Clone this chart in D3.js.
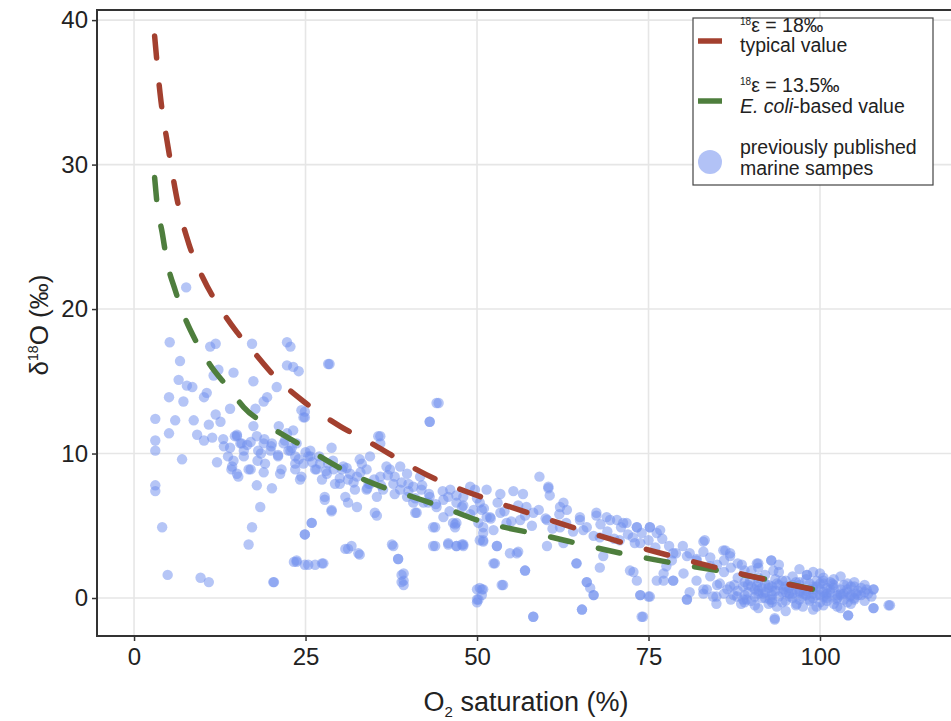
<!DOCTYPE html>
<html><head><meta charset="utf-8">
<script src="https://cdn.jsdelivr.net/npm/d3@7"></script>
<style>body{margin:0;background:#fff}svg{display:block;font-family:"Liberation Sans",Arial,Helvetica,sans-serif}</style>
</head><body><svg id="c" width="951" height="721"></svg>
<script>
const xTicks=[0,25,50,75,100];
const yTicks=[0,10,20,30,40];
const redX=[3,3.8,5,6.4,8,10,12.5,15,17.5,20,25,30,35,40,45,50,60,70,80,90,100];
const redY=[38.9,34.9,31.1,27.3,24.5,22.2,20.1,18.4,17.0,15.6,13.5,11.9,10.6,9.2,8.0,7.1,5.5,4.0,2.7,1.5,0.5];
const greenX=[3,3.4,4.1,4.8,6,7,9,11,14,16,20,25,30,35,40,45,50,60,70,80,90,100];
const greenY=[29.1,27.1,25.3,23.3,21.3,19.9,17.8,16.2,14.4,13.2,11.8,10.4,9.0,7.9,7.1,6.3,5.4,4.3,3.2,2.3,1.5,0.5];
const sampleX=[7.6,5.2,11.9,11.1,17.2,22.3,22.8,6.7,12.3,11.6,14.5,17.4,22.3,6.5,7.7,8.5,5.1,7.2,10.2,10.6,20.8,19.4,18.9,14.0,17.7,3.1,6.0,8.7,11.9,12.6,10.9,5.1,9.2,10.2,11.4,3.1,3.1,13.1,15.0,15.5,16.0,17.4,17.9,18.9,19.9,21.1,22.3,21.8,22.8,7.0,12.1,14.3,15.0,17.0,18.9,21.3,17.9,20.1,3.1,3.1,18.4,4.1,17.2,16.7,23.3,4.9,9.7,10.9,20.4,
28.5,24.0,23.2,24.7,24.9,44.4,43.1,35.9,28.8,23.2,23.7,25.7,23.5,24.2,27.8,28.8,30.8,32.5,35.4,25.9,24.9,30.8,31.7,32.9,23.7,24.9,26.4,27.6,37.8,38.5,39.3,39.3,39.3,43.6,43.6,45.8,47.0,48.0,46.8,50.0,50.7,50.0,50.4,41.2,
25.7,27.1,29.1,30.5,31.5,32.5,33.9,34.4,34.4,35.9,36.3,37.3,37.8,38.8,39.8,40.7,41.7,42.2,43.1,44.1,45.1,46.1,47.0,48.0,49.0,49.5,50.4,51.4,39.8,36.8,35.4,33.9,30.0,28.1,26.6,24.7,23.5,32.9,38.8,40.7,45.1,47.0,50.2,50.9,
59.1,60.4,60.6,51.4,53.4,55.3,56.7,57.2,62.6,63.1,56.3,58.2,60.2,62.1,53.4,51.9,50.9,52.4,54.3,65.0,67.4,68.9,70.4,71.8,73.3,75.2,76.7,65.5,67.9,70.8,72.7,73.8,62.6,60.2,52.9,50.9,54.8,56.0,52.6,57.0,53.6,50.9,64.5,68.4,67.9,66.0,66.5,67.0,58.2,65.3,72.8,73.3,73.8,75.2,74.2,76.2,77.2,77.6,78.6,78.4,
83.2,86.2,86.9,78.6,80.6,82.0,84.0,80.1,78.6,88.6,91.0,92.9,93.2,98.1,100.5,80.6,83.0,84.4,84.9,86.9,87.9,89.3,90.8,91.7,92.7,93.7,93.4,94.7,95.6,96.6,97.6,98.5,99.5,100.5,101.5,102.4,103.4,104.4,105.3,106.8,107.8,104.1,107.8,110.0,101.8,99.5,89.8,88.8,85.4,93.7,
60.4,62.1,67.4,69.4,71.3,73.3,75.2,76.2,83.0,85.9,86.9,90.8,92.9,98.1,100.5,107.8,110.2,107.8,104.1,93.4,80.6,83.5,84.9,87.4,88.8,52.9,52.4,53.8,50.4,50.0,58.2,65.3,74.0,57.0,64.5,66.0,67.0,73.8,75.0,72.3,77.2,47.0,48.0,46.5,50.9,55.8,
14.7,15.7,13.7,14.2,15.2,16.7,18.1,19.1,20.1,21.0,21.5,22.5,23.5,24.4,25.4,26.4,27.4,28.3,29.3,30.3,31.2,32.2,33.2,34.2,35.6,35.9,27.8,28.8,31.2,35.1,28.3,24.4,24.9,44.1,43.1,38.0,40.0,41.9,42.9,45.8,47.8,49.7,50.7,41.0,43.9,46.8,43.9,45.8,47.8,37.6,38.5,39.0,39.0,50.7,50.2,31.2,32.7,23.7,25.4,27.4,24.9,25.9,20.3,
88,89,89.5,90,90.5,91,91.5,92,92.5,93,93.5,94,94.5,95,95.5,96,96.5,97,97.5,98,98.5,99,99.5,100,100,100.5,101,101.5,102,102,102.5,103,103.5,104,104.5,105,105.5,106,106.5,98,96,94,92,90,88,86,86.5,87,85,84,83,82,81,91,95,99,103,97,99,101,93,89,92,96,100,104,102,105,100,97,94,91,
20,21,22,23,24,25,26,27,28,29,30,31,32,33,34,35,36,37,38,39,40,41,42,43,44,45,46,47,48,49,50,51,52,53,54,55,56,57,58,59,60,61,62,63,64,65,66,67,68,69,70,71,72,73,74,75,76,77,78,79,80,81,82,83,84,85,86,87,88,89,
86,87.5,88.5,89.5,90.5,91.5,92.5,93.5,94.5,95.5,96.5,97.5,98.5,99.5,100.5,101.5,102.5,103.5,104.5,105.5,106.5,107.5,103,99,95,91,97,93,101,104,
13,14,15,16,17,18,19,14.5,16.5,18.5,
90,91,92,93,94,95,96,97,98,99,100,101,102,103,104,105,106,107,90.5,92.5,94.5,96.5,98.5,100.5,102.5,104.5,106.5,89,91,93,95,97,99,101,103,105];
const sampleY=[21.5,17.7,17.6,17.4,17.6,17.7,17.4,16.4,15.8,15.4,15.6,15.0,16.1,15.1,14.7,14.6,13.9,13.6,13.9,14.2,14.6,13.9,13.6,13.1,13.1,12.4,12.3,12.3,12.7,12.2,12.0,11.4,11.3,10.9,11.1,10.9,10.2,10.5,11.2,10.7,10.2,11.9,11.2,10.7,10.2,11.9,11.4,10.7,10.2,9.6,9.4,9.1,8.6,8.9,8.7,8.6,7.8,7.6,7.8,7.4,6.3,4.9,4.9,3.7,2.5,1.6,1.4,1.1,1.1,
16.2,15.7,16.0,12.5,12.9,13.5,12.2,11.2,10.4,11.6,10.7,10.2,8.9,8.2,6.8,6.0,7.0,6.3,5.7,5.2,4.4,3.4,3.6,3.0,2.6,2.3,2.3,2.4,3.6,2.7,1.7,1.2,0.9,4.9,3.6,3.7,3.6,3.7,5.1,0.6,0.2,-0.3,4.0,5.9,
9.8,9.3,8.9,9.1,8.6,8.4,8.9,9.8,7.9,8.4,7.5,8.9,7.9,7.5,7.0,7.7,8.4,6.6,7.0,6.3,6.8,7.5,6.6,7.0,7.7,6.1,6.6,5.6,8.6,9.1,7.0,7.5,7.9,8.6,8.9,9.3,9.8,9.6,9.1,6.6,5.6,5.2,5.2,4.5,
8.4,7.7,7.1,7.5,7.2,7.4,7.2,6.3,6.6,6.1,5.4,5.9,5.4,4.9,5.9,5.6,4.9,4.7,5.2,5.6,5.9,5.6,5.4,5.2,4.9,4.9,4.7,4.7,4.2,4.0,4.2,3.8,3.8,3.6,3.6,3.9,3.1,3.2,2.4,1.9,0.9,0.6,2.4,2.9,2.1,1.1,0.7,0.2,-1.3,-0.8,1.8,1.2,0.2,0.1,-1.3,1.2,1.7,2.2,1.2,2.6,
4.0,3.3,2.9,3.1,2.9,2.6,2.2,1.7,1.2,2.3,2.4,2.6,1.9,1.6,1.4,-0.1,0.3,0.1,-0.4,0.8,0.1,-0.1,0.8,0.3,-0.1,-0.6,-1.5,0.6,0.1,-0.4,0.3,-0.1,-0.6,0.1,0.6,-0.1,0.3,0.1,0.3,0.6,0.6,-1.2,-0.7,-0.5,1.0,0.8,1.2,0.8,1.0,1.0,
7.6,6.3,5.7,5.4,5.2,4.9,4.9,4.5,3.9,3.3,3.1,2.4,2.6,1.6,1.2,0.6,-0.5,-0.7,-1.2,-1.4,-0.1,0.6,0.1,0.2,-0.1,3.6,2.4,0.9,0.7,-0.1,-1.3,-0.8,-1.3,1.9,2.4,1.1,0.2,0.2,0.1,1.9,1.2,3.6,3.6,5.2,4.0,3.1,
11.2,10.7,9.8,8.9,8.4,8.9,10.2,9.3,10.7,9.8,8.9,10.2,9.3,8.4,9.8,8.9,8.2,9.3,7.9,8.9,8.2,7.5,9.3,7.9,11.2,10.7,7.0,6.1,6.6,5.9,16.2,13.0,12.5,13.5,12.2,8.4,7.9,7.5,6.6,7.0,6.3,7.5,6.1,5.9,4.9,4.9,3.6,3.8,3.7,3.7,2.7,1.6,1.1,0.6,-0.1,3.4,3.1,2.5,2.3,2.4,4.4,5.2,1.1,
0.5,0.2,0.9,-0.2,0.6,1.1,0.0,0.4,0.9,-0.3,0.5,0.1,1.2,-0.2,0.7,0.3,-0.5,0.9,0.1,0.5,-0.2,0.8,0.2,-0.3,0.6,1.0,0.0,0.4,-0.4,0.9,0.2,0.6,-0.1,0.4,0.8,0.0,0.5,0.2,0.9,1.3,1.5,1.8,1.6,1.9,1.4,1.8,0.6,-0.1,0.9,1.5,0.6,1.2,0.4,-0.7,-0.9,-0.8,-0.7,-0.1,0.3,0.7,0.8,-0.3,0.0,0.9,0.2,-0.3,1.3,1.1,1.7,2.0,2.3,2.1,
10.5,9.9,10.9,10.4,9.6,10.1,9.4,9.8,8.8,9.5,8.3,9.0,8.0,8.7,7.6,8.2,7.8,8.5,7.2,8.0,7.4,6.9,7.8,7.2,6.5,7.4,6.0,7.1,6.4,5.8,6.9,6.2,5.5,6.6,6.0,5.3,6.4,5.7,5.0,6.1,5.5,4.8,5.8,5.2,4.6,5.4,4.9,4.3,5.1,4.6,4.1,4.9,4.4,3.8,4.5,4.0,3.5,4.1,3.6,3.1,3.6,3.1,2.7,3.2,2.8,2.3,2.6,2.1,2.4,1.9,
0.3,0.9,-0.4,0.4,-0.5,0.7,-0.4,1.3,-0.3,0.3,1.1,-0.6,0.6,1.2,-0.5,1.1,-0.6,0.9,-0.4,0.2,0.4,0.1,1.5,1.8,1.2,1.4,0.5,0.2,0.3,0.6,
11.0,10.4,11.3,9.8,10.8,9.5,11.0,9.5,10.6,10.0,
0.8,0.3,1.0,0.5,0.9,0.4,0.0,1.1,0.2,0.6,1.0,0.1,0.7,0.3,1.0,-0.1,0.7,0.3,0.1,0.7,0.4,0.6,1.0,0.4,0.0,0.2,-0.2,1.1,0.5,-0.1,0.8,0.4,0.0,-0.2,0.2,0.8];

const svg=d3.select("#c");
const L=97,R=955,T=10,B=636;
const x=d3.scaleLinear().domain([-5.4,(R-134)/6.86]).range([L,R]);
const y=d3.scaleLinear().domain([-2.63,40.7]).range([B,T]);
const g=svg.append("g");
g.selectAll(".gx").data(xTicks).join("line").attr("x1",d=>x(d)).attr("x2",d=>x(d)).attr("y1",T).attr("y2",B).attr("stroke","#e6e6e6").attr("stroke-width",1.6);
g.selectAll(".gy").data(yTicks).join("line").attr("y1",d=>y(d)).attr("y2",d=>y(d)).attr("x1",L).attr("x2",R).attr("stroke","#e6e6e6").attr("stroke-width",1.6);
const pts=sampleX.map((v,i)=>[v,sampleY[i]]);
g.append("g").selectAll("circle").data(pts).join("circle").attr("cx",d=>x(d[0])).attr("cy",d=>y(d[1])).attr("r",5.2).attr("fill","#7290ee").attr("fill-opacity",0.52);
const line=d3.line().x(d=>x(d[0])).y(d=>y(d[1])).curve(d3.curveMonotoneX);
g.append("path").datum(greenX.map((v,i)=>[v,greenY[i]])).attr("d",line).attr("fill","none").attr("stroke","#4e7e3d").attr("stroke-width",5.5).attr("stroke-dasharray","22,27").attr("stroke-linecap","round");
g.append("path").datum(redX.map((v,i)=>[v,redY[i]])).attr("d",line).attr("fill","none").attr("stroke","#a3402f").attr("stroke-width",5.5).attr("stroke-dasharray","22,27").attr("stroke-linecap","round");
svg.append("rect").attr("x",L).attr("y",T).attr("width",R-L).attr("height",B-T).attr("fill","none").attr("stroke","#333").attr("stroke-width",2);
const xa=svg.append("g").attr("transform",`translate(0,${B})`).call(d3.axisBottom(x).tickValues(xTicks).tickSize(5).tickPadding(7));
const ya=svg.append("g").attr("transform",`translate(${L},0)`).call(d3.axisLeft(y).tickValues(yTicks).tickSize(5).tickPadding(4));
[xa,ya].forEach(a=>{a.select(".domain").remove();a.selectAll("line").attr("stroke","#333").attr("stroke-width",1.5);a.selectAll("text").attr("fill","#222").attr("font-size",24).attr("font-family","Liberation Sans, Arial, sans-serif");});
const xt=svg.append("text").attr("x",(L+R)/2).attr("y",711).attr("text-anchor","middle").attr("font-size",27).attr("fill","#222");
xt.append("tspan").text("O");
xt.append("tspan").text("2").attr("font-size",15).attr("dy",6);
xt.append("tspan").text(" saturation (%)").attr("dy",-6);
const yt=svg.append("text").attr("transform","translate(48,325) rotate(-90)").attr("text-anchor","middle").attr("font-size",26).attr("fill","#222");
yt.append("tspan").text("δ");
yt.append("tspan").text("18").attr("font-size",14).attr("dy",-10);
yt.append("tspan").text("O (‰)").attr("dy",10);
const lg=svg.append("g");
lg.append("rect").attr("x",693).attr("y",18).attr("width",240).attr("height",167).attr("fill","#fff").attr("stroke","#444").attr("stroke-width",1.2);
lg.append("line").attr("x1",698).attr("x2",722).attr("y1",41).attr("y2",41).attr("stroke","#a3402f").attr("stroke-width",5.5);
lg.append("line").attr("x1",698).attr("x2",722).attr("y1",101).attr("y2",101).attr("stroke","#4e7e3d").attr("stroke-width",5.5);
lg.append("circle").attr("cx",710).attr("cy",162).attr("r",12).attr("fill","#7290ee").attr("fill-opacity",0.55);
const fs=19.5;
function sup(yy,txt){const t=lg.append("text").attr("x",740).attr("y",yy).attr("font-size",fs).attr("fill","#222");t.append("tspan").text("18").attr("font-size",10).attr("dy",-7);t.append("tspan").text(txt).attr("dy",7);return t;}
sup(32,"ε = 18‰");
lg.append("text").attr("x",740).attr("y",52).attr("font-size",fs).attr("fill","#222").text("typical value");
sup(92,"ε = 13.5‰");
const ec=lg.append("text").attr("x",740).attr("y",113).attr("font-size",fs).attr("fill","#222");
ec.append("tspan").text("E. coli").attr("font-style","italic");ec.append("tspan").text("-based value");
lg.append("text").attr("x",740).attr("y",154).attr("font-size",fs).attr("fill","#222").text("previously published");
lg.append("text").attr("x",740).attr("y",175).attr("font-size",fs).attr("fill","#222").text("marine sampes");
</script></body></html>
